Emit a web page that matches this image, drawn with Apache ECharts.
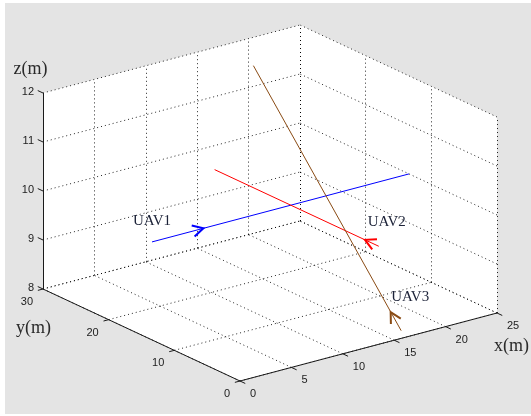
<!DOCTYPE html>
<html><head><meta charset="utf-8">
<script src="https://cdn.jsdelivr.net/npm/echarts@6/dist/echarts.min.js"></script>
<style>html,body{margin:0;padding:0;background:#fff}#c{width:531px;height:416px}</style>
</head><body><div id="c"></div>
<script>
// ---------------- data ----------------
const xTicks = [0, 5, 10, 15, 20, 25];
const yTicks = [0, 10, 20, 30];
const zTicks = [8, 9, 10, 11, 12];
const axisNames = ['x(m)', 'y(m)', 'z(m)'];
const uavNames = ['UAV1', 'UAV2', 'UAV3'];
// trajectories [x, y, z]: start -> end
const uav1Path = [[0, 13.4, 10], [25, 13.4, 10]];
const uav2Path = [[13.5, 0, 10], [13.5, 25, 10]];
const uav3Path = [[16.7, 1.6, 8], [16.7, 24.1, 12]];
// heading arrow tips [x, y, z]
const uav1Arrow = [5, 13.4, 10];
const uav2Arrow = [13.5, 2.1, 10];
const uav3Arrow = [16.7, 3.2, 8.28];

// ---------------- view / layout ----------------
const W = 531, H = 416;
const view = { ox: 240, oy: 381, ex: [257 / 25, -68 / 25], ey: [-197 / 30, -92 / 30], ez: [0, -49] };
const x0 = xTicks[0], x1 = xTicks[xTicks.length - 1];
const y0 = yTicks[0], y1 = yTicks[yTicks.length - 1];
const z0 = zTicks[0], z1 = zTicks[zTicks.length - 1];
function P(p) {
  return [view.ox + (p[0] - x0) * view.ex[0] + (p[1] - y0) * view.ey[0] + (p[2] - z0) * view.ez[0],
          view.oy + (p[0] - x0) * view.ex[1] + (p[1] - y0) * view.ey[1] + (p[2] - z0) * view.ez[1]];
}
function seg(a, b) { return { coords: [P(a), P(b)] }; }

const colors = ['#0000ff', '#ff0000', '#8a4b14'];
const paths = [uav1Path, uav2Path, uav3Path];
const arrows = [uav1Arrow, uav2Arrow, uav3Arrow];
const labelOffsets = [[0, -21], [8, -24], [9, -34]];

// grid (dotted) on back walls and floor
const gridSegs = [];
xTicks.forEach(x => { gridSegs.push(seg([x, y1, z0], [x, y1, z1])); gridSegs.push(seg([x, y0, z0], [x, y1, z0])); });
yTicks.forEach(y => { gridSegs.push(seg([x1, y, z0], [x1, y, z1])); gridSegs.push(seg([x0, y, z0], [x1, y, z0])); });
zTicks.forEach(z => { gridSegs.push(seg([x0, y1, z], [x1, y1, z])); gridSegs.push(seg([x1, y0, z], [x1, y1, z])); });

const axisSegs = [seg([x0, y0, z0], [x1, y0, z0]), seg([x0, y0, z0], [x0, y1, z0]), seg([x0, y1, z0], [x0, y1, z1])];
const tickSegs = [];
xTicks.forEach(x => tickSegs.push(seg([x, y0, z0], [x, y0 - 0.8, z0])));
yTicks.forEach(y => tickSegs.push(seg([x0, y, z0], [x0 - 0.5, y, z0])));
zTicks.forEach(z => tickSegs.push(seg([x0, y1, z], [x0, y1 + 0.8, z])));

function arrowHead(path, tip) {
  const a = P(path[0]), b = P(path[1]), t = P(tip);
  let dx = a[0] - b[0], dy = a[1] - b[1];
  const L = Math.hypot(dx, dy); dx /= L; dy /= L;
  const ang = 28 * Math.PI / 180, len = 12;
  const r = s => [t[0] + len * (dx * Math.cos(s) - dy * Math.sin(s)), t[1] + len * (dx * Math.sin(s) + dy * Math.cos(s))];
  return { coords: [r(ang), t, r(-ang)] };
}

const textItems = [];
const tickFont = '11px "Liberation Sans", Arial, sans-serif';
zTicks.forEach(z => { const p = P([x0, y1, z]); textItems.push({ p: p, dx: -9, dy: -1, t: String(z), align: 'right', font: tickFont, fill: '#222' }); });
yTicks.forEach(y => { const p = P([x0, y, z0]); textItems.push({ p: p, dx: -10, dy: 13, t: String(y), align: 'right', font: tickFont, fill: '#222' }); });
xTicks.forEach(x => { const p = P([x, y0, z0]); textItems.push({ p: p, dx: 10, dy: 13, t: String(x), align: 'left', font: tickFont, fill: '#222' }); });
const titleFont = '18px "Liberation Serif", "Times New Roman", serif';
textItems.push({ p: P([x1, y0, z0]), dx: 14.5, dy: 33, t: axisNames[0], align: 'center', font: titleFont, fill: '#2a2a2a' });
textItems.push({ p: P([x0, y1, z0]), dx: -9.5, dy: 39, t: axisNames[1], align: 'center', font: titleFont, fill: '#2a2a2a' });
textItems.push({ p: P([x0, y1, z1]), dx: -12.5, dy: -24, t: axisNames[2], align: 'center', font: titleFont, fill: '#2a2a2a' });
uavNames.forEach((n, i) => {
  textItems.push({ p: P(paths[i][0]), dx: labelOffsets[i][0], dy: labelOffsets[i][1], t: n, align: 'center',
    font: '15px "Liberation Serif", "Times New Roman", serif', fill: '#1c2238' });
});

const box = [[x0, y1, z1], [x1, y1, z1], [x1, y0, z1], [x1, y0, z0], [x0, y0, z0], [x0, y1, z0]].map(P);

const series = [];
series.push({
  type: 'custom', silent: true, z: 1, data: [[0, 0]],
  renderItem: (params, api) => ({ type: 'polygon', shape: { points: box.map(q => api.coord(q)) }, style: { fill: '#ffffff' } })
});
series.push({ type: 'lines', coordinateSystem: 'cartesian2d', silent: true, z: 2, data: gridSegs,
  lineStyle: { color: '#000', width: 1, type: [1, 3], opacity: 0.85 } });
series.push({ type: 'lines', coordinateSystem: 'cartesian2d', silent: true, z: 3, data: axisSegs.concat(tickSegs),
  lineStyle: { color: '#1a1a1a', width: 1, type: 'solid', opacity: 1 } });
paths.forEach((pth, i) => {
  series.push({ type: 'line', silent: true, z: 4, data: pth.map(P), showSymbol: false, symbol: 'none',
    lineStyle: { color: colors[i], width: 1 } });
  series.push({ type: 'lines', coordinateSystem: 'cartesian2d', polyline: true, silent: true, z: 5,
    data: [arrowHead(pth, arrows[i])], lineStyle: { color: colors[i], width: 2, opacity: 1 } });
});
series.push({
  type: 'custom', silent: true, z: 6, data: textItems.map(o => o.p),
  renderItem: (params, api) => {
    const o = textItems[params.dataIndex];
    const c = api.coord([api.value(0), api.value(1)]);
    return { type: 'text', x: c[0] + o.dx, y: c[1] + o.dy,
      style: { text: o.t, font: o.font, fill: o.fill, align: o.align, verticalAlign: 'middle' } };
  }
});

const chart = echarts.init(document.getElementById('c'), null, { renderer: 'canvas' });
chart.setOption({
  animation: false,
  backgroundColor: '#ffffff',
  graphic: [{ type: 'rect', z: -10, shape: { x: 5, y: 3, width: W - 5, height: H - 5 }, style: { fill: '#e4e4e4' } }],
  grid: { left: 0, top: 0, right: 0, bottom: 0, containLabel: false },
  xAxis: { type: 'value', min: 0, max: W, show: false },
  yAxis: { type: 'value', min: 0, max: H, inverse: true, show: false },
  series: series
});
</script></body></html>
